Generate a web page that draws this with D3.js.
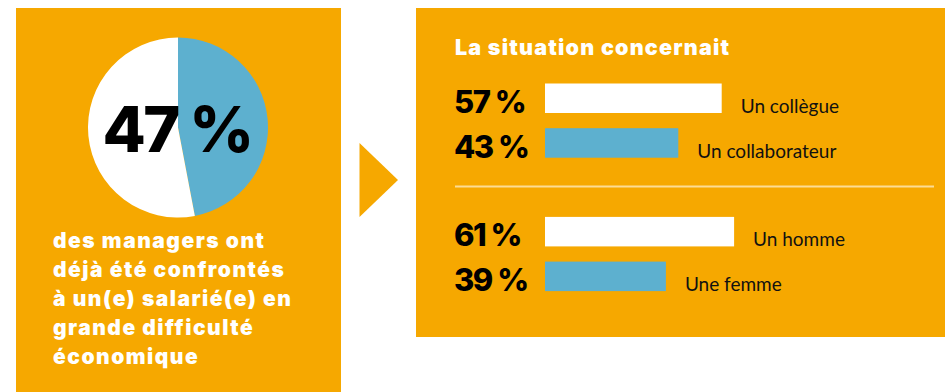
<!DOCTYPE html>
<html>
<head>
<meta charset="utf-8">
<script src="https://cdn.jsdelivr.net/npm/d3@7"></script>
<style>
  html, body { margin: 0; padding: 0; background: #fff; }
  #chart { width: 945px; height: 392px; }
  text { font-family: Lato, "Open Sans", sans-serif; }
  .heavy { font-family: Inter, "Open Sans", sans-serif; font-weight: 800; }
  .black { font-family: Inter, "Open Sans", sans-serif; font-weight: 900; }
</style>
</head>
<body>
<div id="chart"></div>
<script>
// data
const pieShare = 47;
const pieLabel = "47 %";
const bodyLines = [
  "des managers ont",
  "déjà été confrontés",
  "à un(e) salarié(e) en",
  "grande difficulté",
  "économique"
];
const title = "La situation concernait";
const categories = ["Un collègue", "Un collaborateur", "Un homme", "Une femme"];
const values = [57, 43, 61, 39];
const groups = [0, 0, 1, 1];

const orange = "#f6a800";
const blue = "#5db0cf";

const svg = d3
  .select("#chart")
  .append("svg")
  .attr("width", 945)
  .attr("height", 392);

// left panel
svg.append("rect").attr("x", 16).attr("y", 8).attr("width", 325).attr("height", 384).attr("fill", orange);

// pie
const pie = d3.pie().sort(null).value((d) => d);
const arc = d3.arc().innerRadius(0).outerRadius(90);
const pieG = svg.append("g").attr("transform", "translate(178,127.5)");
pieG
  .selectAll("path")
  .data(pie([pieShare, 100 - pieShare]))
  .enter()
  .append("path")
  .attr("d", arc)
  .attr("fill", (d, i) => (i === 0 ? blue : "#fff"));

pieG
  .append("text")
  .attr("class", "heavy")
  .attr("text-anchor", "middle")
  .attr("x", -1)
  .attr("y", 24)
  .attr("font-size", 63)
  .attr("letter-spacing", -2.5)
  .attr("fill", "#000")
  .text(pieLabel);

// text under the pie
svg
  .append("g")
  .selectAll("text")
  .data(bodyLines)
  .enter()
  .append("text")
  .attr("class", "black")
  .attr("x", 53)
  .attr("y", (d, i) => 247.5 + i * 29)
  .attr("font-size", 21)
  .attr("letter-spacing", 1.5)
  .attr("fill", "#fff")
  .text((d) => d);

// arrow
svg.append("path").attr("d", "M359.5,143L398,180L359.5,217Z").attr("fill", orange);

// right panel
svg.append("rect").attr("x", 416).attr("y", 8).attr("width", 529).attr("height", 329).attr("fill", orange);

svg
  .append("text")
  .attr("class", "black")
  .attr("x", 455)
  .attr("y", 54.5)
  .attr("font-size", 21.5)
  .attr("letter-spacing", 1.2)
  .attr("fill", "#fff")
  .text(title);

// separator between the two groups
svg.append("line").attr("x1", 455).attr("x2", 934).attr("y1", 186.5).attr("y2", 186.5).attr("stroke", "#fcdc95").attr("stroke-width", 2);

// bar scales
const x = d3.scaleLinear().domain([0, 100]).range([0, 310]);
const barH = 29.5;
const y = (i) => 83.5 + i * 44.7 + groups[i] * 44;

const rows = svg
  .append("g")
  .selectAll("g")
  .data(categories)
  .enter()
  .append("g")
  .attr("transform", (d, i) => `translate(0,${y(i)})`);

rows
  .append("rect")
  .attr("x", 545)
  .attr("width", (d, i) => x(values[i]))
  .attr("height", barH)
  .attr("fill", (d, i) => (i % 2 === 0 ? "#fff" : blue));

rows
  .append("text")
  .attr("class", "heavy")
  .attr("x", 454)
  .attr("y", barH)
  .attr("font-size", 31)
  .attr("letter-spacing", -1.5)
  .attr("fill", "#000")
  .text((d, i) => `${values[i]} %`);

rows
  .append("text")
  .attr("x", (d, i) => 545 + x(values[i]) + 19)
  .attr("y", barH)
  .attr("font-size", 19)
  .attr("fill", "#111")
  .text((d) => d);
</script>
</body>
</html>
